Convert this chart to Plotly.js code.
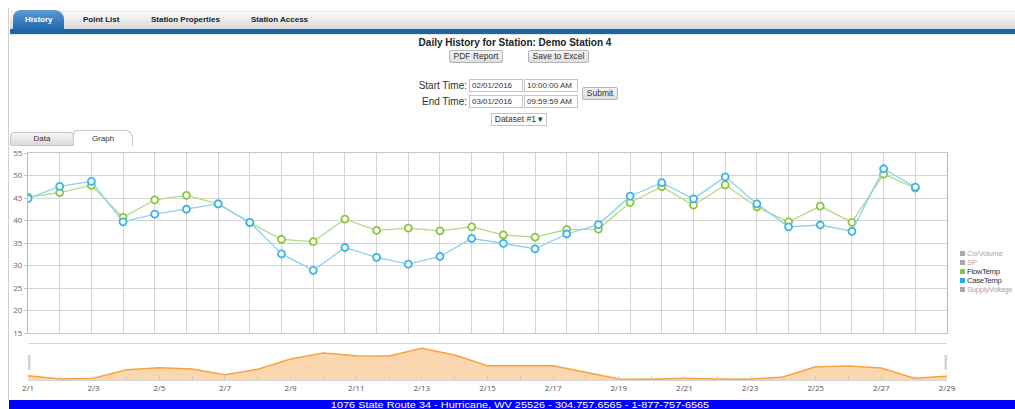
<!DOCTYPE html>
<html><head><meta charset="utf-8">
<script src="https://cdn.plot.ly/plotly-3.0.1.min.js"></script>
<style>
body{margin:0;width:1015px;height:409px;overflow:hidden;background:#fff;font-family:Arial,"Liberation Sans",sans-serif;position:relative}
.a{position:absolute;white-space:nowrap;box-sizing:border-box}
.tab{font-weight:bold;font-size:8px;color:#222;top:15px;line-height:10px}
.btn{border:1px solid #b5b5b5;border-radius:2px;background:linear-gradient(#f6f6f6,#dedede);font-size:8.5px;color:#333;text-align:center}
.inp{border:1px solid #c4c4c4;background:#fff;font-size:8px;color:#333;padding-left:2px}
.lbl{font-size:10px;color:#333;text-align:right}
.lg{font-size:7.8px;line-height:9px;font-family:Arial,"Liberation Sans",sans-serif;letter-spacing:-0.35px}
.sq{width:5px;height:5px}
</style></head><body>
<div id="chart" class="a" style="left:0;top:0;width:1015px;height:409px"></div>

<!-- page frame -->
<div class="a" style="left:8px;top:8px;width:1px;height:392px;background:#d0d0d0"></div>
<!-- tab bar -->
<div class="a" style="left:10px;top:11px;width:1005px;height:18px;border-top:1px solid #e4e4e4;background:linear-gradient(#fbfbfb,#d8d8d8)"></div>
<div class="a" style="left:10px;top:29px;width:1005px;height:5px;background:#1a66a8"></div>
<div class="a" style="left:10px;top:34px;width:1005px;height:1px;background:#e6e6e6"></div>
<div class="a" style="left:13px;top:10px;width:51px;height:21px;border-radius:8px 9px 0 0;background:linear-gradient(#5a9cd4,#1c64a6)"></div>
<div class="a tab" style="left:25px;color:#fff">History</div>
<div class="a tab" style="left:83px">Point List</div>
<div class="a tab" style="left:151px">Station Properties</div>
<div class="a tab" style="left:251px">Station Access</div>

<!-- header form -->
<div class="a" style="left:0;width:1030px;top:37px;text-align:center;font-weight:bold;font-size:10px;color:#222;line-height:12px">Daily History for Station: Demo Station 4</div>
<div class="a btn" style="left:449px;top:50px;width:54px;height:13px;line-height:11px">PDF Report</div>
<div class="a btn" style="left:528px;top:50px;width:61px;height:13px;line-height:11px">Save to Excel</div>
<div class="a lbl" style="left:398px;width:69px;top:79px;line-height:13px">Start Time:</div>
<div class="a inp" style="left:469px;top:79px;width:54px;height:13px;line-height:11px">02/01/2016</div>
<div class="a inp" style="left:524px;top:79px;width:54px;height:13px;line-height:11px">10:00:00 AM</div>
<div class="a lbl" style="left:398px;width:69px;top:95px;line-height:13px">End Time:</div>
<div class="a inp" style="left:469px;top:95px;width:54px;height:13px;line-height:11px">03/01/2016</div>
<div class="a inp" style="left:524px;top:95px;width:54px;height:13px;line-height:11px">09:59:59 AM</div>
<div class="a btn" style="left:582px;top:87px;width:36px;height:13px;line-height:11px">Submit</div>
<div class="a inp" style="left:491px;top:113px;width:56px;height:13px;line-height:11px;text-align:center;padding:0;font-size:8.5px">Dataset #1 &#9662;</div>

<!-- data/graph tabs -->
<div class="a" style="left:10px;top:132px;width:64px;height:14px;border:1px solid #c6c6c6;border-radius:4px 4px 0 0;background:linear-gradient(#f6f6f6,#dadada);font-size:8px;color:#333;text-align:center;line-height:12px">Data</div>
<div class="a" style="left:73px;top:130px;width:60px;height:16px;border:1px solid #c6c6c6;border-bottom:none;border-radius:4px 8px 0 0;background:#fff;font-size:8px;color:#333;text-align:center;line-height:15px">Graph</div>

<!-- legend -->
<div id="legend"></div>

<!-- footer -->
<div class="a" style="left:9px;top:400px;width:1006px;height:9px;background:#0000ff;overflow:hidden">
 <div class="a" style="left:0;width:1022px;top:0;text-align:center;color:#fff;font-size:9.5px;line-height:9px;transform:scaleX(1.15);transform-origin:50% 50%">1076 State Route 34 - Hurricane, WV 25526 - 304.757.6565 - 1-877-757-6565</div>
</div>

<script>
const dates = ['2016-02-01','2016-02-02','2016-02-03','2016-02-04','2016-02-05','2016-02-06','2016-02-07',
  '2016-02-08','2016-02-09','2016-02-10','2016-02-11','2016-02-12','2016-02-13','2016-02-14',
  '2016-02-15','2016-02-16','2016-02-17','2016-02-18','2016-02-19','2016-02-20','2016-02-21',
  '2016-02-22','2016-02-23','2016-02-24','2016-02-25','2016-02-26','2016-02-27','2016-02-28','2016-02-29'];
const flowTemp = [45.2,46.2,47.8,40.7,44.6,45.6,43.7,39.5,35.8,35.3,40.3,37.8,38.3,37.7,38.6,36.8,36.3,38.0,38.1,44.0,47.5,43.4,47.9,43.0,39.7,43.2,39.6,50.3,47.2];
const caseTemp = [44.9,47.6,48.7,39.7,41.4,42.5,43.7,39.6,32.6,28.9,34.0,31.8,30.3,32.0,36.0,34.9,33.7,37.0,39.1,45.4,48.4,44.8,49.7,43.7,38.6,39.0,37.6,51.5,47.4];
const navigatorSeries = [4.3,1.0,1.7,10.3,12.3,11.0,5.3,10.7,21.0,27.0,24.3,24.0,31.7,25.0,14.3,14.3,14.3,7.7,1.0,0.7,1.7,1.0,0.7,3.0,13.3,14.0,12.0,1.7,3.7];
const legendNames = ['CorVolume','SP','FlowTemp','CaseTemp','SupplyVoltage'];
const legendColors = ['#a8a8a8','#a8a8a8','#8cc63f','#2aa9e0','#a8a8a8'];
const legendActive = [false,false,true,true,false];
const xRangeMain = ['2016-02-01','2016-03-01'];
const yTicksMain = [15,55];

const DAY = 86400000;
const W = 1015, H = 409;
const GREEN = '#8cc63f', GREEN_LINE = '#b3da86';
const BLUE = '#3cb3e9', BLUE_LINE = '#8ad0f0';

const traces = [
  {x:dates, y:flowTemp, name:'FlowTemp', xaxis:'x', yaxis:'y', mode:'lines+markers',
   line:{color:GREEN_LINE, width:1.3},
   marker:{symbol:'circle', size:7, color:'#fff', line:{color:GREEN, width:1.8}}},
  {x:dates, y:caseTemp, name:'CaseTemp', xaxis:'x', yaxis:'y', mode:'lines+markers',
   line:{color:BLUE_LINE, width:1.3},
   marker:{symbol:'circle', size:7, color:'#fff', line:{color:BLUE, width:1.8}}},
  {x:dates, y:navigatorSeries, name:'Navigator', xaxis:'x2', yaxis:'y2', mode:'lines',
   fill:'tozeroy', fillcolor:'rgba(247,166,78,0.45)', line:{color:'#f7a33f', width:1.5}}
];

const xdom = [28/W, 947/W];
const layout = {
  width:W, height:H, margin:{l:0,r:0,t:0,b:0}, showlegend:false,
  paper_bgcolor:'rgba(0,0,0,0)', plot_bgcolor:'#fff',
  font:{family:'"Open Sans", Arial, sans-serif', size:8, color:'#666'},
  xaxis:{domain:xdom, anchor:'y', type:'date', range:xRangeMain, tick0:dates[0], dtick:DAY,
    showticklabels:false, ticks:'', showgrid:true, gridcolor:'#d4d4d4', gridwidth:1,
    showline:true, mirror:true, linecolor:'#c6c6c6', zeroline:false},
  yaxis:{domain:[(H-333)/H,(H-153)/H], anchor:'x', range:yTicksMain, tick0:15, dtick:5,
    showgrid:true, gridcolor:'#d4d4d4', showline:true, mirror:true, linecolor:'#b8b8b8',
    ticks:'outside', ticklen:3, tickcolor:'#c6c6c6', tickfont:{size:8, color:'#666'}, zeroline:false},
  xaxis2:{domain:xdom, anchor:'y2', type:'date', range:[dates[0], dates[dates.length-1]],
    tick0:dates[0], dtick:2*DAY, tickformat:'%-m/%-d', ticks:'inside', ticklen:4, tickcolor:'#cccccc',
    minor:{dtick:DAY, ticks:'inside', ticklen:4, tickcolor:'#cccccc', showgrid:false},
    showgrid:false, showline:true, mirror:true, linecolor:'#d6d6d6', zeroline:false,
    tickfont:{size:8, color:'#555'}},
  yaxis2:{domain:[(H-380)/H,(H-344)/H], anchor:'x2', range:[0,36], visible:false, fixedrange:true},
  shapes:[
    {type:'rect', xref:'x2', yref:'y2', xsizemode:'pixel', xanchor:dates[0], x0:-2.5, x1:2.5, y0:10, y1:25,
     fillcolor:'#d2d2d2', line:{width:0}},
    {type:'rect', xref:'x2', yref:'y2', xsizemode:'pixel', xanchor:dates[dates.length-1], x0:-2.5, x1:2.5, y0:10, y1:25,
     fillcolor:'#d2d2d2', line:{width:0}}
  ]
};

Plotly.newPlot('chart', traces, layout, {staticPlot:true, displayModeBar:false});

// legend (HTML, compact rows like the original)
const lg = document.getElementById('legend');
legendNames.forEach((n,i)=>{
  const top = 249 + i*9;
  const sq = document.createElement('div');
  sq.className='a sq'; sq.style.left='960px'; sq.style.top=(top+2)+'px'; sq.style.background=legendColors[i];
  lg.appendChild(sq);
  const t = document.createElement('div');
  t.className='a lg'; t.style.left='967px'; t.style.top=top+'px';
  t.style.color = legendActive[i] ? '#333' : '#aaa';
  t.textContent = n;
  lg.appendChild(t);
});
</script>
</body></html>
